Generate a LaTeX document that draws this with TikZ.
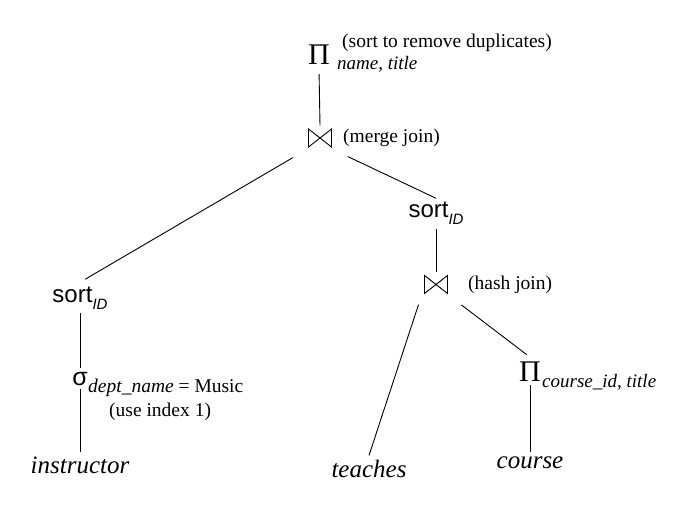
\documentclass[tikz,border=0pt]{standalone}
\usepackage{fontspec}
\setmainfont{Liberation Serif}
\newfontfamily\opsans{Liberation Sans}
\usepackage{tikz}
\usetikzlibrary{positioning}

\newcommand{\sortid}{{\opsans\fontsize{24}{28}\selectfont sort}\raisebox{-7pt}{\opsans\itshape\fontsize{15}{18}\selectfont ID}}

\begin{document}
\begin{tikzpicture}[x=1pt,y=-1pt,
  opnode/.style={inner sep=4pt,font=\fontsize{30}{34}\selectfont},
  selnode/.style={inner sep=4pt,font=\opsans\fontsize{25}{28}\selectfont},
  sortop/.style={inner sep=4pt},
  subtext/.style={inner sep=0pt,font=\itshape\fontsize{19}{22}\selectfont},
  note/.style={inner sep=0pt,font=\fontsize{19.5}{22}\selectfont},
  relname/.style={inner sep=4pt,font=\itshape\fontsize{25}{30}\selectfont},
  joinop/.style={minimum width=24pt,minimum height=19pt,inner sep=0pt,outer sep=3pt,
    path picture={\draw[line width=0.9pt]
      ([shift={(0.5pt,-0.5pt)}]path picture bounding box.north west) --
      ([shift={(0.5pt,0.5pt)}]path picture bounding box.south west) --
      ([shift={(-0.5pt,-0.5pt)}]path picture bounding box.north east) --
      ([shift={(-0.5pt,0.5pt)}]path picture bounding box.south east) -- cycle;}},
  edge/.style={line width=0.9pt}]
\useasboundingbox (0,0) rectangle (687,510);

% projection on top and merge join
\node[opnode,anchor=base] (proj1) at (319,65) {Π};
\node[subtext,anchor=base west] (proj1sub) at (337,70) {name, title};
\node[note,anchor=base west] (dedup) at (342,48) {(sort to remove duplicates)};
\node[joinop] (merge) at (320,138) {};
\node[note,anchor=base west] (mergelbl) at (343,143) {(merge join)};

% left branch
\node[sortop,anchor=base] (sortL) at (80,302) {\sortid};
\node[selnode,anchor=base] (sel) at (80,385) {σ};
\node[note,anchor=base west] (selsub) at (88,392) {{\itshape dept\_name} = Music};
\node[note,anchor=base west] (useidx) at (109,416) {(use index 1)};
\node[relname,anchor=base] (instr) at (80,473) {instructor};

% right branch
\node[sortop,anchor=base] (sortR) at (436,218) {\sortid};
\node[joinop] (hash) at (436,284.5) {};
\node[note,anchor=base west] (hashlbl) at (468,290) {(hash join)};
\node[relname,anchor=base] (teaches) at (369,477) {teaches};
\node[opnode,anchor=base] (proj2) at (530,381) {Π};
\node[subtext,anchor=base west] (proj2sub) at (542,387) {course\_id, title};
\node[relname,anchor=base] (course) at (530,468) {course};

\draw[edge,shorten <=5pt] (proj1.south) -- (merge.north);
\draw[edge,shorten <=14pt,shorten >=6pt] (merge.south west) -- (sortL.north);
\draw[edge,shorten <=14pt] (merge.south east) -- (sortR.north);
\draw[edge] (sortL.south) -- (sel.north);
\draw[edge] (sel.south) -- (instr.north);
\draw[edge] (sortR.south) -- (hash.north);
\draw[edge,shorten <=8pt] (hash.south west) -- (teaches.north);
\draw[edge,shorten <=13pt,shorten >=4pt] (hash.south east) -- (proj2.north);
\draw[edge] (proj2.south) -- (course.north);
\end{tikzpicture}
\end{document}
